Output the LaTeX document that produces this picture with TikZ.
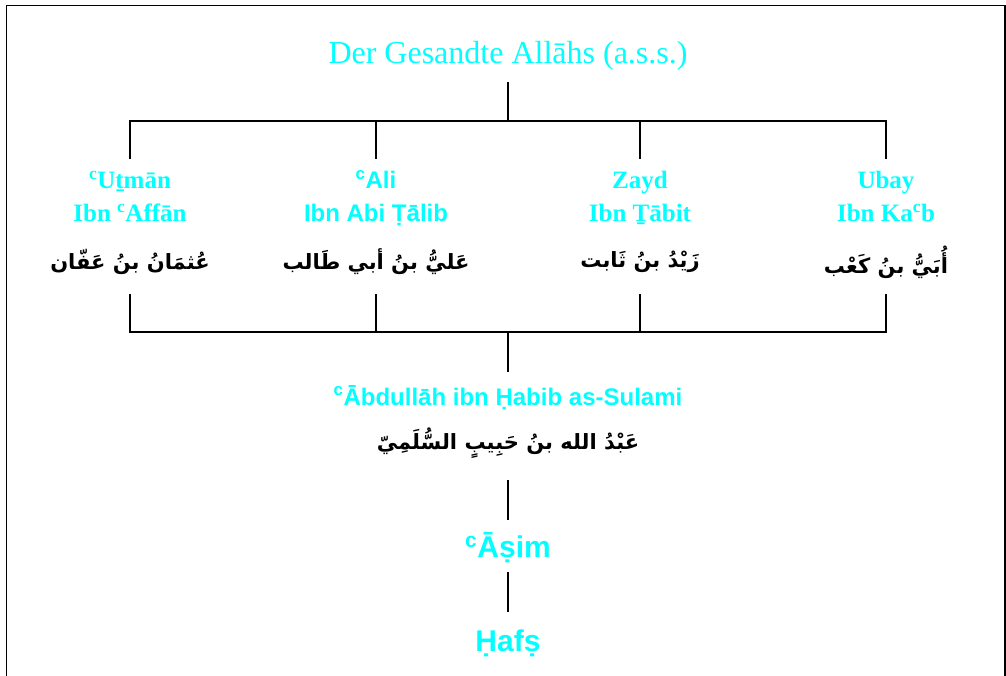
\documentclass[tikz,border=0pt]{standalone}
\usepackage{fontspec}
\setmainfont{Liberation Serif}
\newfontfamily\sansf{Liberation Sans}
\newfontfamily\arabicfont[Script=Arabic]{DejaVu Sans}
\TeXXeTstate=1
\definecolor{cy}{RGB}{0,255,255}
\begin{document}
\begin{tikzpicture}[x=1pt,y=-1pt,
 head/.style={text=cy, font=\fontsize{32}{38}\selectfont, inner sep=0pt, anchor=base},
 nameser/.style={text=cy, font=\fontsize{25}{30}\selectfont\bfseries, inner sep=0pt, anchor=base},
 namesans/.style={text=cy, font=\sansf\fontsize{24}{29}\selectfont\bfseries, inner sep=0pt, anchor=base},
 bigsans/.style={text=cy, font=\sansf\fontsize{30}{36}\selectfont\bfseries, inner sep=0pt, anchor=base},
 arab/.style={font=\arabicfont\fontsize{21}{25}\selectfont\bfseries, inner sep=0pt},
 conn/.style={line width=1.2pt}]
\useasboundingbox (0,0) rectangle (1006,676);
\draw[line width=1.5pt] (6.5,690) -- (6.5,5.5) -- (1005,5.5) -- (1005,690);

% texts
\node[head] (top) at (508,64) {Der Gesandte Allāhs (a.s.s.)};

\node[nameser] (u1) at (130,189) {\textsuperscript{c}Uṯmān};
\node[nameser] (u2) at (130,222) {Ibn \textsuperscript{c}Affān};
\node[arab] (u3) at (130,262) {\beginR عُثمَانُ بنُ عَفّان\endR};

\node[namesans] (a1) at (376,189) {\textsuperscript{c}Ali};
\node[namesans] (a2) at (376,222) {Ibn Abi Ṭālib};
\node[arab] (a3) at (376,262) {\beginR عَليُّ بنُ أبي طَالب\endR};

\node[nameser] (z1) at (640,189) {Zayd};
\node[nameser] (z2) at (640,222) {Ibn Ṯābit};
\node[arab] (z3) at (640,262) {\beginR زَيْدُ بنُ ثَابت\endR};

\node[nameser] (b1) at (886,189) {Ubay};
\node[nameser] (b2) at (886,222) {Ibn Ka\textsuperscript{c}b};
\node[arab] (b3) at (886,262) {\beginR أُبَيُّ بنُ كَعْب\endR};

\node[namesans] (ab1) at (508,405) {\textsuperscript{c}Ābdullāh ibn Ḥabib as-Sulami};
\node[arab] (ab2) at (508,443) {\beginR عَبْدُ الله بنُ حَبِيبٍ السُّلَمِيّ\endR};

\node[bigsans] (as) at (508,557) {\textsuperscript{c}Āṣim};
\node[bigsans] (hf) at (508,651) {Ḥafṣ};

% connector coordinates
\coordinate (t0) at (508,82);
\coordinate (t1) at (508,121);
\coordinate (h1) at (130,121);
\coordinate (h2) at (376,121);
\coordinate (h3) at (640,121);
\coordinate (h4) at (886,121);
\coordinate (d1) at (130,159);
\coordinate (d2) at (376,159);
\coordinate (d3) at (640,159);
\coordinate (d4) at (886,159);
\coordinate (e1) at (130,294);
\coordinate (e2) at (376,294);
\coordinate (e3) at (640,294);
\coordinate (e4) at (886,294);
\coordinate (f1) at (130,332);
\coordinate (f2) at (376,332);
\coordinate (f3) at (640,332);
\coordinate (f4) at (886,332);
\coordinate (fm) at (508,332);
\coordinate (g0) at (508,372);
\coordinate (k0) at (508,480);
\coordinate (k1) at (508,520);
\coordinate (m0) at (508,572);
\coordinate (m1) at (508,612);

\draw[conn] (t0) -- (t1);
\draw[conn] (d1) -- (h1) -- (h4) -- (d4);
\draw[conn] (h2) -- (d2);
\draw[conn] (h3) -- (d3);
\draw[conn] (e1) -- (f1) -- (f4) -- (e4);
\draw[conn] (e2) -- (f2);
\draw[conn] (e3) -- (f3);
\draw[conn] (fm) -- (g0);
\draw[conn] (k0) -- (k1);
\draw[conn] (m0) -- (m1);
\end{tikzpicture}
\end{document}
